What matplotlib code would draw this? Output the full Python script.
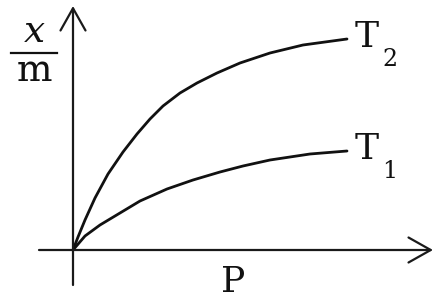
import matplotlib
matplotlib.use("Agg")
import matplotlib.pyplot as plt

# Adsorption isotherms (x/m vs P) (arbitrary units)
p_t2 = [0, 5, 12, 22, 35, 50, 64, 77, 90, 107, 124, 144, 167, 197, 230, 274]
y_t2 = [0, 13, 30, 52, 76, 98, 116, 131, 144, 157, 167, 177, 187, 197, 205, 211]
p_t1 = [0, 6, 12, 27, 47, 67, 94, 120, 147, 170, 197, 237, 274]
y_t1 = [0, 7, 14, 25, 37, 49, 61, 70, 78, 84, 90, 96, 99]
curve_labels = ["T", "T"]
curve_subs = ["2", "1"]
x_label = "P"

fig = plt.figure(figsize=(4.35, 3.01), dpi=100)
ax = fig.add_axes([0, 0, 1, 1])
ax.set_xlim(-73, 362)
ax.set_ylim(-51, 250)
ax.axis("off")

# axes with open arrowheads
arrow = dict(arrowstyle="->,head_length=0.8,head_width=0.45", lw=1.6,
             color="#1a1a1a", mutation_scale=20, shrinkA=0, shrinkB=0)
ax.annotate("", xy=(360, 0), xytext=(-34, 0), arrowprops=arrow)
ax.annotate("", xy=(0, 244), xytext=(0, -35), arrowprops=arrow)

ax.plot(p_t2, y_t2, color="#111111", lw=2.0, solid_capstyle="round",
        solid_joinstyle="round")
ax.plot(p_t1, y_t1, color="#111111", lw=2.0, solid_capstyle="round",
        solid_joinstyle="round")

serif = "DejaVu Serif"
# curve labels
for (px, py), lab, sub in zip([(p_t2[-1], y_t2[-1]), (p_t1[-1], y_t1[-1])],
                              curve_labels, curve_subs):
    ax.text(px + 8, py + 2, lab, family=serif, fontsize=26, ha="left",
            va="center", color="#111111")
    ax.text(px + 35, py - 20, sub, family=serif, fontsize=17, ha="left",
            va="center", color="#111111")

# axis labels
ax.text(160, -32, x_label, family=serif, fontsize=26, ha="center",
        va="center", color="#111111")
ax.text(-39, 218, "x", family=serif, style="italic", fontsize=27,
        ha="center", va="center", color="#111111")
ax.plot([-62, -16], [197, 197], color="#111111", lw=1.6)
ax.text(-39, 179, "m", family=serif, fontsize=27, ha="center",
        va="center", color="#111111")

fig.savefig("out.png", dpi=100, facecolor="white")
